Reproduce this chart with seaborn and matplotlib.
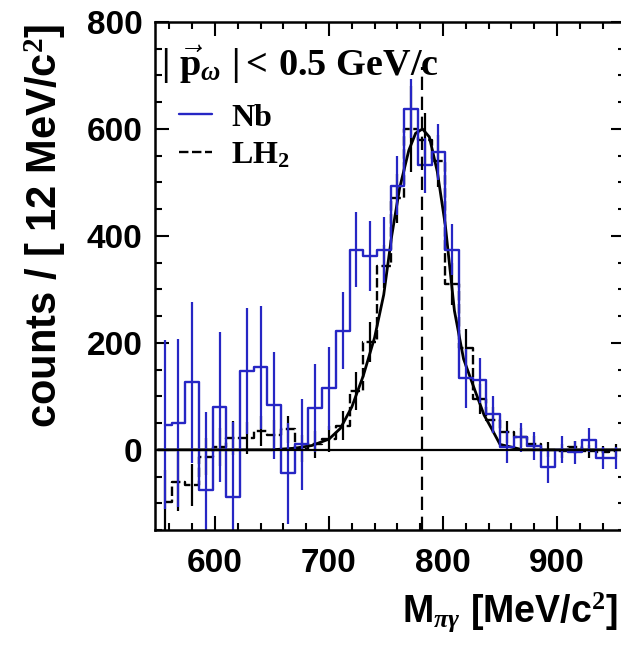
import numpy as np
import pandas as pd
import matplotlib
matplotlib.use("Agg")
import matplotlib.pyplot as plt
import seaborn as sns
from matplotlib.ticker import MultipleLocator

# bins of 12 MeV starting at 550 MeV
bin_width = 12
bin_lo = 550
n_bins = 34

# Nb (blue) counts and errors per bin
nb_counts = [47, 50, 126, -75, 80, -88, 148, 154, 83, -44,
             10, 78, 115, 223, 374, 362, 374, 494, 638, 532,
             557, 374, 134, 130, 66, 6, 23, 7, -32, 0,
             -5, 18, -15, -15]
nb_err = [158, 157, 150, 145, 140, 140, 118, 115, 100, 95,
          85, 82, 78, 72, 70, 65, 62, 55, 55, 52,
          52, 48, 55, 42, 34, 30, 28, 26, 30, 25,
          22, 22, 20, 20]

# LH2 (black) counts and errors per bin
lh2_counts = [-98, -60, -66, -13, 5, 22, 22, 35, 28, 38,
              2, 10, 20, 45, 110, 202, 343, 470, 600, 580,
              540, 310, 190, 95, 56, 33, 23, 10, 0, -3,
              5, -3, -5, -2]
lh2_err = [60, 55, 40, 35, 35, 32, 30, 28, 27, 26,
           25, 25, 25, 27, 35, 37, 40, 45, 80, 50,
           48, 40, 35, 28, 24, 20, 18, 15, 14, 13,
           12, 12, 12, 12]

# fit curve
curve_m = [550, 650, 670, 685, 700, 710, 720, 730, 740, 748, 755, 762,
           770, 776, 782, 788, 795, 802, 810, 818, 828, 836, 843, 850, 870, 960]
curve_c = [0, 0, 3, 8, 20, 40, 80, 138, 210, 290, 400, 490,
           560, 592, 600, 585, 520, 420, 260, 170, 111, 65, 38, 10, 0, 0]

omega_mass = 782

centers = bin_lo + bin_width * (np.arange(n_bins) + 0.5)
df = pd.DataFrame({"m": centers, "nb": nb_counts, "nb_err": nb_err,
                   "lh2": lh2_counts, "lh2_err": lh2_err})
curve = pd.DataFrame({"m": curve_m, "c": curve_c})

blue = "#2626c4"

sns.set_style("ticks")
plt.rcParams["font.family"] = ["Liberation Sans", "DejaVu Sans"]
plt.rcParams["font.weight"] = "bold"
plt.rcParams["text.color"] = "black"
plt.rcParams["axes.labelcolor"] = "black"
plt.rcParams["xtick.color"] = "black"
plt.rcParams["ytick.color"] = "black"
plt.rcParams["axes.edgecolor"] = "black"
plt.rcParams["mathtext.fontset"] = "custom"
plt.rcParams["mathtext.rm"] = "Liberation Serif:bold"
plt.rcParams["mathtext.it"] = "Liberation Serif:italic:bold"
plt.rcParams["mathtext.bf"] = "Liberation Serif:bold"

fig = plt.figure(figsize=(6.21, 6.48), dpi=100)
ax = fig.add_axes([155 / 621, 1 - 530 / 648, 470 / 621, 508 / 648])

# fit curve
sns.lineplot(data=curve, x="m", y="c", color="black", linewidth=2.0, ax=ax)

# LH2 histogram
sns.lineplot(data=df, x="m", y="lh2", drawstyle="steps-mid", color="black",
             linewidth=1.7, linestyle=(0, (4, 1.5)), ax=ax, label="LH$_2$")
ax.errorbar(df.m, df.lh2, yerr=df.lh2_err, fmt="none", ecolor="black",
            elinewidth=1.6)

# Nb histogram
sns.lineplot(data=df, x="m", y="nb", drawstyle="steps-mid", color=blue,
             linewidth=1.7, ax=ax, label="Nb")
ax.errorbar(df.m, df.nb, yerr=df.nb_err, fmt="none", ecolor=blue,
            elinewidth=1.6)

ax.axhline(0, color="black", linewidth=1.6)
ax.vlines(omega_mass, -150, 715, colors="black", linestyles=(0, (6, 3)),
          linewidth=1.6)

ax.set_xlim(547.4, 959.6)
ax.set_ylim(-150, 800)
ax.xaxis.set_major_locator(MultipleLocator(100))
ax.xaxis.set_minor_locator(MultipleLocator(20))
ax.yaxis.set_major_locator(MultipleLocator(200))
ax.yaxis.set_minor_locator(MultipleLocator(50))
ax.tick_params(which="both", direction="in", top=True, right=True,
               width=1.5, labelsize=24)
ax.tick_params(which="major", length=10, pad=9)
ax.tick_params(axis="x", which="major", pad=13)
ax.tick_params(which="minor", length=5)
for lab in ax.get_xticklabels() + ax.get_yticklabels():
    lab.set_fontweight("bold")
for sp in ax.spines.values():
    sp.set_linewidth(1.8)
ax.set_xlabel("")
ax.set_ylabel("")

# legend in serif like the original
h, l = ax.get_legend_handles_labels()
order = [l.index("Nb"), l.index("LH$_2$")]
ax.legend([h[i] for i in order], [l[i] for i in order], loc="upper left",
          bbox_to_anchor=(0.05, 0.84), frameon=False, borderpad=0,
          borderaxespad=0, handlelength=1.05, handletextpad=0.6,
          labelspacing=0.25,
          prop={"family": "Liberation Serif", "weight": "bold", "size": 23})

ax.text(0.012, 0.915,
        r"$|\ \vec{\mathrm{p}}_{\omega}\ | < \,0.5\ \mathrm{GeV/c}$",
        transform=ax.transAxes, ha="left", va="center", fontsize=27.5)

fig.text(0.072, 0.651, "counts / [ 12 MeV/c$^{\\mathbf{2}}$]", rotation=90,
         ha="center", va="center", fontsize=30, fontweight="bold")
fig.text(0.995, 0.056, "M$_{\\pi\\gamma}$ [MeV/c$^{\\mathbf{2}}$]",
         ha="right", va="center", fontsize=27, fontweight="bold")

fig.savefig("out.png", dpi=100, facecolor="white")
